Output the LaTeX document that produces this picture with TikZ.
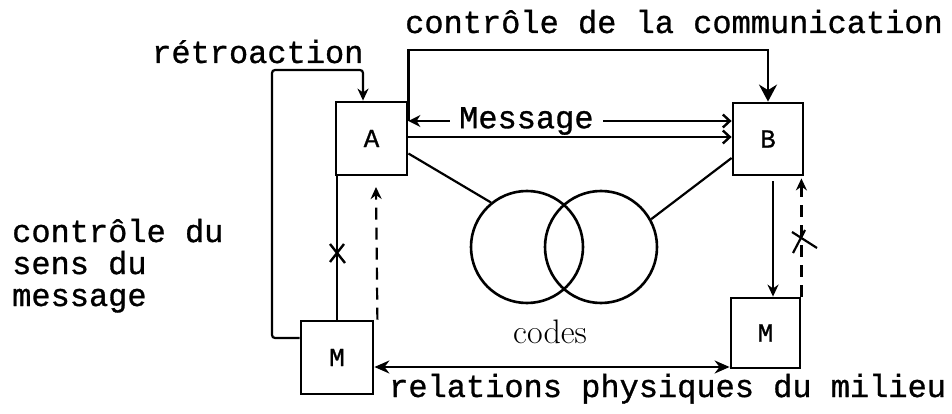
\documentclass[tikz,border=0pt]{standalone}
\usepackage{fontspec}
\newfontfamily\cour[FakeBold=0.9]{Liberation Mono}
\usetikzlibrary{arrows.meta,calc}
\tikzset{
  box/.style={draw, line width=2.8pt, minimum width=#1, inner sep=0pt, font=\cour\fontsize{26}{26}\selectfont},
  conn/.style={line width=2.2pt},
  lbl/.style={font=\cour\fontsize{32}{32}\selectfont, inner sep=0pt},
  dsh/.style={conn, dash pattern=on 12pt off 8pt},
  tipS/.style={-{Stealth[length=12pt,width=11pt]}},
  tipB/.style={-{Straight Barb[length=7pt,width=13pt,line width=2.4pt]}},
  ring/.style={draw, circle, line width=2.6pt, minimum size=112pt, inner sep=0pt}
}
\begin{document}
\begin{tikzpicture}[x=1pt,y=-1pt]
\useasboundingbox (0,0) rectangle (952,414);
% boxes
\node[box=71pt, minimum height=73pt] (A) at (371.5,138.5) {A};
\node[box=70pt, minimum height=72pt] (B) at (768,139) {B};
\node[box=72pt, minimum height=73pt] (ML) at (337,357.5) {M};
\node[box=69pt, minimum height=70pt] (MR) at (765.5,333) {M};
% circles
\node[ring] (c1) at (527,247) {};
\node[ring] (c2) at (601,247) {};
% helper coordinates
\coordinate (ymsg) at (0,121);
\coordinate (yab) at (0,137);
\coordinate (yctl) at (0,50);
\coordinate (rtL) at (272,70);
\coordinate (ybot) at (0,367);
\coordinate (ldash) at (376,187);
% texts
\node[lbl, anchor=base west] (tctl) at (405,33) {contrôle de la communication};
\node[lbl, anchor=base west] (tret) at (152,63) {rétroaction};
\node[lbl, anchor=base west] (tsens1) at (12,242) {contrôle du};
\node[lbl, anchor=base west] (tsens2) at (12,274) {sens du};
\node[lbl, anchor=base west] (tsens3) at (12,306) {message};
\node[lbl, anchor=base west] (trel) at (389,397) {relations physiques du milieu};
\node[font=\fontsize{34}{34}\selectfont, inner sep=0pt, anchor=base west] (tcodes) at (513,343) {codes};
% message arrow
\draw[conn, {Stealth[length=12pt,width=12pt]}-{Straight Barb[length=7pt,width=13pt,line width=2.4pt]}] (A.east |- ymsg) -- (B.west |- ymsg)
  node[pos=0.365, fill=white, lbl, inner xsep=9pt, inner ysep=4pt] (tmsg) {Message};
\draw[conn, tipB] (A.east |- yab) -- (B.west |- yab);
% control of communication
\draw[line width=2.8pt, -{Stealth[length=17pt,width=18pt]}] (A.east |- ymsg) -- (A.east |- yctl) -| (B.north);
% retroaction
\draw[conn, tipS, rounded corners=3pt] ([yshift=19.5pt]ML.west) -| (rtL) -| ([xshift=-8.5pt]A.north);
% left vertical
\draw[conn] (ML.north) -- (ML.north |- A.south);
\draw[line width=2.4pt] (330,244) -- (345,263) (344,244) -- (330,262);
\draw[dsh, tipS] ([xshift=3pt]ML.north east) -- (ldash);
% right verticals
\draw[conn, tipS, shorten <=5pt] ([xshift=5pt]B.south) -- ([xshift=5pt]B.south |- MR.north);
\draw[dsh, tipS, shorten >=2pt] (MR.north east) -- (MR.north east |- B.south);
\draw[line width=2.2pt] (793,253) -- (805,230) (792,232) -- (817,248);
% code lines
\draw[conn] ([yshift=-15pt]A.east) -- (c1.129);
\draw[conn] (c2.29) -- ([yshift=-19pt]B.west);
% bottom arrow
\draw[conn, {Stealth[length=15pt,width=13pt]}-{Stealth[length=15pt,width=13pt]}] (ML.east |- ybot) -- (MR.west |- ybot);
\end{tikzpicture}
\end{document}
